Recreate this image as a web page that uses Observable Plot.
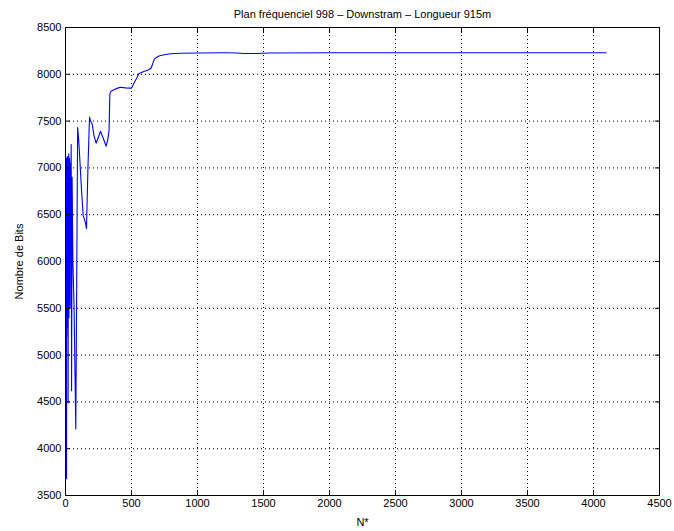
<!DOCTYPE html>
<html>
<head>
<meta charset="utf-8">
<script src="https://cdn.jsdelivr.net/npm/d3@7"></script>
<script src="https://cdn.jsdelivr.net/npm/@observablehq/plot@0.6"></script>
<style>
  html, body { margin: 0; padding: 0; background: #fff; }
  #chart { width: 674px; height: 531px; }
</style>
</head>
<body>
<div id="chart"></div>
<script>
const title = "Plan fréquenciel 998 – Downstram – Longueur 915m";
const xLabel = "N*";
const yLabel = "Nombre de Bits";
const xTicks = [0, 500, 1000, 1500, 2000, 2500, 3000, 3500, 4000, 4500];
const yTicks = [3500, 4000, 4500, 5000, 5500, 6000, 6500, 7000, 7500, 8000, 8500];

const nValues = [1, 2, 3, 4, 5, 6, 7, 8, 9, 10, 11, 12, 13, 14, 15, 16, 17, 18, 19, 20, 21, 22, 23, 24, 25, 26, 27, 28, 29, 30, 31, 32, 33, 35, 37, 40, 43, 46, 50, 56, 65, 78, 92,
  100, 120, 134, 150, 159, 170, 182, 190, 202, 215, 232, 250, 265, 285, 308, 320, 330, 336, 345, 366, 400, 417, 455, 500,
  518, 540, 555, 593, 631, 650, 665, 674, 700, 720, 760, 795, 871, 1000, 1200, 1300, 1350, 1450, 1550, 2000, 3000, 4096];
const bits = [7000, 5600, 7080, 5900, 7100, 5400, 6900, 3680, 7050, 5200, 7100, 5700, 7120, 5300, 7000, 5900, 7100, 5800, 7050, 4490, 7120, 5500, 7000, 6000, 7150, 5400, 7100, 5900, 7080, 5600, 7100, 6200, 7000, 5500, 7050, 6400, 7250, 4620, 6900, 6000, 5500, 4210, 7430,
  7300, 6800, 6490, 6420, 6350, 7000, 7542, 7500, 7470, 7350, 7264, 7330, 7392, 7320, 7232, 7300, 7400, 7791, 7820, 7834, 7855, 7862, 7855, 7852,
  7905, 7960, 8005, 8030, 8048, 8070, 8130, 8165, 8190, 8200, 8212, 8219, 8225, 8228, 8230, 8228, 8222, 8222, 8228, 8230, 8230, 8230];

const data = nValues.map((n, i) => ({n, b: bits[i]}));

const grid = {stroke: "black", strokeOpacity: 1, strokeWidth: 1, strokeDasharray: "1,3"};

const chart = Plot.plot({
  width: 674,
  height: 531,
  marginLeft: 65,
  marginRight: 15,
  marginTop: 27,
  marginBottom: 36,
  style: {fontFamily: "'Liberation Sans', Arial, sans-serif", fontSize: "11px", color: "black", background: "white"},
  x: {domain: [0, 4500]},
  y: {domain: [3500, 8500]},
  marks: [
    Plot.gridX(xTicks.slice(1, -1), grid),
    Plot.gridY(yTicks.slice(1, -1), grid),
    Plot.line(data, {x: "n", y: "b", stroke: "#0000ff", strokeWidth: 1.1}),
    Plot.axisX(xTicks, {anchor: "bottom", tickSize: -5, tickPadding: 9, tickFormat: "d", label: xLabel, labelAnchor: "center", labelOffset: 30, labelArrow: "none"}),
    Plot.axisX(xTicks, {anchor: "top", tickSize: -5, tickFormat: () => "", label: null}),
    Plot.axisY(yTicks, {anchor: "left", tickSize: -5, tickPadding: 9, tickFormat: "d", label: yLabel, labelAnchor: "center", labelOffset: 50, labelArrow: "none"}),
    Plot.axisY(yTicks, {anchor: "right", tickSize: -5, tickFormat: () => "", label: null}),
    Plot.frame({stroke: "black", strokeWidth: 1}),
    Plot.text([title], {frameAnchor: "top", dy: -17, fontSize: 11})
  ]
});
document.getElementById("chart").appendChild(chart);
</script>
</body>
</html>
